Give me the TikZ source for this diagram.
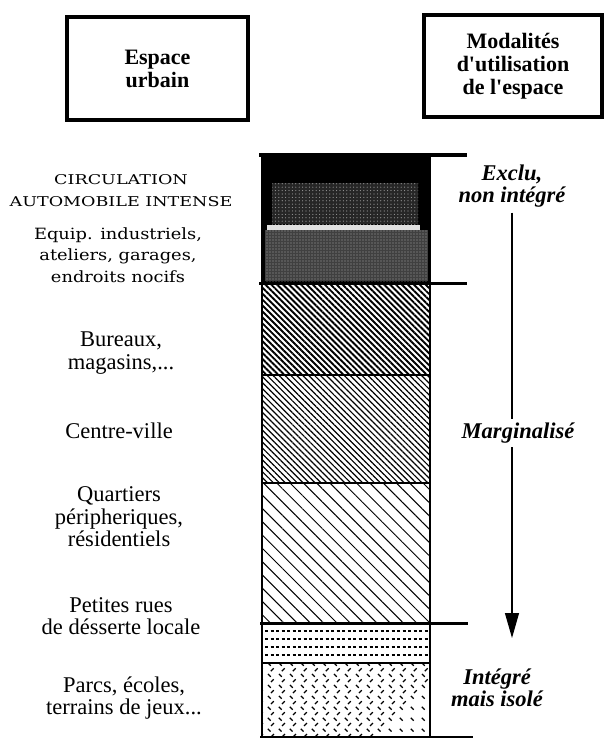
\documentclass[tikz,border=0pt]{standalone}
\usepackage{fontspec}
\setmainfont{Liberation Serif}
\newfontfamily\bookcaps[FakeStretch=1.3]{DejaVu Serif}
\newfontfamily\booktext[FakeStretch=1.15]{DejaVu Serif}
\usetikzlibrary{patterns.meta,arrows.meta}
\begin{document}
\begin{tikzpicture}[x=1pt,y=-1pt,
  hbox/.style={draw,line width=3.5pt,inner sep=0pt,align=center,
    font=\fontsize{22}{23}\selectfont\bfseries},
  lab/.style={font=\fontsize{22.5}{22.5}\selectfont,align=center,inner sep=0pt},
  capslab/.style={font=\fontsize{13.5}{22}\selectfont\bookcaps,align=center,inner sep=0pt},
  booklab/.style={font=\fontsize{15.5}{21.5}\selectfont\booktext,align=center,inner sep=0pt},
  mod/.style={font=\fontsize{22.5}{22.5}\selectfont\bfseries\itshape,align=center,inner sep=0pt},
  sep/.style={line width=3pt},
  innersep/.style={line width=1.6pt},
  arrowline/.style={line width=1.2pt},
  crossdash/.style={line width=1.1pt,dash pattern=on 4pt off 11.5pt},
]
\useasboundingbox (0,0) rectangle (604,738);

% header boxes
\node[hbox,minimum width=181pt,minimum height=103pt] (h1) at (157.5,68.5) {Espace\\urbain};
\node[hbox,minimum width=178pt,minimum height=102pt] (h2) at (513,66) {Modalités\\d\textquotesingle utilisation\\de l\textquotesingle espace};

% top dark section
\fill[black] (262,155) rectangle (430,283);
\fill[black!85] (272,183) rectangle (418,224);
\path[pattern={Dots[distance=3.4pt,radius=0.6pt]},pattern color=gray!80] (272,183) rectangle (418,224);
\fill[black!12] (267,225) rectangle (420,230);
\fill[black!75] (265,230) rectangle (428,281);
\path[pattern={Dots[distance=3pt,radius=0.6pt]},pattern color=gray!70] (265,230) rectangle (428,281);

% hatched sections
\path[pattern={Lines[angle=-45,distance=4.2pt,line width=1.9pt]}] (262,283) rectangle (430,375);
\path[pattern={Lines[angle=-45,distance=4.2pt,line width=1.2pt]}] (262,375) rectangle (430,483);
\path[pattern={Lines[angle=-45,distance=9.4pt,line width=1pt]}] (262,483) rectangle (430,623);

% dotted section
\foreach \yy in {631,639,647,655} {
  \draw[line width=1.2pt,dash pattern=on 3pt off 2.5pt] (265,\yy) -- (428,\yy);
}

% cross pattern section
\begin{scope}
  \clip (262,663) rectangle (430,737);
  \foreach \i in {-8,...,24} {
    \draw[crossdash] (180+\i*11,663) -- ++(80,80);
    \draw[crossdash,dash phase=8pt] (180+\i*11,663) -- ++(-80,80);
  }
\end{scope}

% inner boundaries
\draw[innersep] (262,375) -- (430,375);
\draw[innersep] (262,483) -- (430,483);
\draw[line width=2pt] (262,663) -- (430,663);

% column sides
\draw[line width=2.4pt] (262,155) -- (262,737);
\draw[line width=2.4pt] (430,155) -- (430,737);

% separators
\draw[sep,line width=3.5pt] (259,155) -- (467,155);
\draw[sep] (259,283) -- (467,283);
\draw[sep] (260,623) -- (468,623);
\draw[sep] (260,737) -- (473,737);

% left labels
\node[capslab] (circ) at (121,191) {CIRCULATION\\AUTOMOBILE INTENSE};
\node[booklab] (equip) at (118,255) {Equip. industriels,\\ateliers, garages,\\endroits nocifs};
\node[lab] (bur) at (121,353) {Bureaux,\\magasins,...};
\node[lab] (cv) at (119,431) {Centre-ville};
\node[lab] (quart) at (119,517) {Quartiers\\péripheriques,\\résidentiels};
\node[lab] (pet) at (121,616) {Petites rues\\de désserte locale};
\node[lab] (parc) at (124,698) {Parcs, écoles,\\terrains de jeux...};

% right labels and arrow
\node[mod] (exclu) at (512,186) {Exclu,\\non intégré};
\node[mod] (marg) at (518,433) {Marginalisé};
\node[mod] (integ) at (497,688) {Intégré\\mais isolé};
\coordinate (tip) at (512,638);
\draw[arrowline,shorten <=5pt,shorten >=4pt] (exclu.south) -- (exclu.south |- marg.north);
\draw[arrowline,shorten <=4pt,-{Triangle[length=25pt,width=14pt]}] (exclu.south |- marg.south) -- (tip);
\end{tikzpicture}
\end{document}
